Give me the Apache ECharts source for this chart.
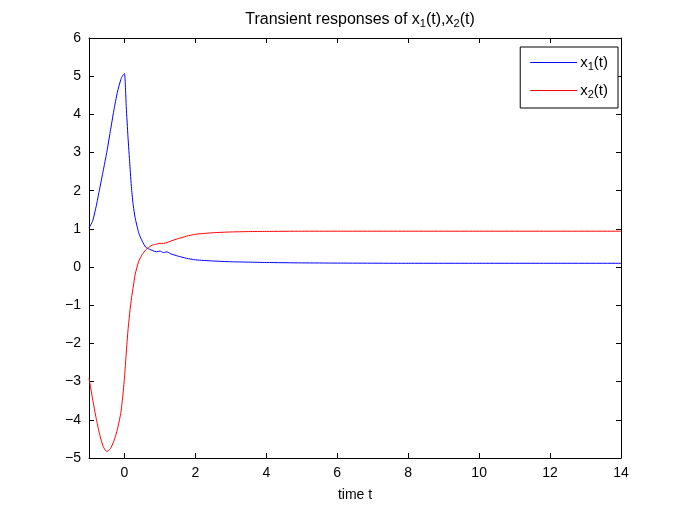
<!DOCTYPE html>
<html>
<head>
<meta charset="utf-8">
<script src="https://cdn.jsdelivr.net/npm/echarts@6/dist/echarts.min.js"></script>
<style>
  html, body { margin: 0; padding: 0; background: #fff; }
  #chart { width: 685px; height: 515px; }
</style>
</head>
<body>
<div id="chart"></div>
<script>
// time samples and the two state responses
const times = [-1, -0.9, -0.8, -0.7, -0.6, -0.5, -0.4, -0.3, -0.2, -0.1, -0.05, 0,
  0.05, 0.1, 0.15, 0.2, 0.25, 0.3, 0.4, 0.5, 0.6, 0.7, 0.8, 0.9, 1.0, 1.1, 1.2, 1.3,
  1.5, 1.75, 2, 2.5, 3, 3.5, 4, 5, 6, 8, 10, 12, 14];
const x1 = [1.03, 1.2, 1.58, 2.05, 2.52, 3.0, 3.55, 4.1, 4.58, 4.92, 5.02, 5.07,
  4.2, 3.4, 2.7, 2.05, 1.6, 1.3, 0.9, 0.68, 0.52, 0.47, 0.43, 0.40, 0.42, 0.38, 0.40, 0.35,
  0.29, 0.23, 0.19, 0.16, 0.14, 0.13, 0.12, 0.11, 0.105, 0.1, 0.1, 0.1, 0.1];
const x2 = [-2.9, -3.45, -3.95, -4.38, -4.7, -4.83, -4.76, -4.56, -4.25, -3.8, -3.4, -2.9,
  -2.25, -1.65, -1.18, -0.8, -0.5, -0.2, 0.15, 0.33, 0.45, 0.53, 0.58, 0.6, 0.62, 0.62, 0.64, 0.68,
  0.74, 0.81, 0.86, 0.9, 0.92, 0.93, 0.935, 0.94, 0.94, 0.94, 0.94, 0.94, 0.94];
const xTicks = [0, 2, 4, 6, 8, 10, 12, 14];

const font = 'Liberation Sans, Arial, sans-serif';
const subRich = size => ({
  sub: { fontSize: size, verticalAlign: 'bottom', padding: [8, 0, 0, 0], fontFamily: font, color: '#000' }
});
const fmtNum = v => (v < 0 ? '\u2212' + Math.abs(v) : String(v));

const frame = { onZero: false, lineStyle: { color: '#000', width: 1 } };
const tick = { inside: true, length: 5, lineStyle: { color: '#000' } };

const myChart = echarts.init(document.getElementById('chart'));
myChart.setOption({
  animation: false,
  textStyle: { fontFamily: font },
  title: {
    text: 'Transient responses of x{sub|1}(t),x{sub|2}(t)',
    left: 355, top: 5, textAlign: 'center',
    textStyle: { fontSize: 16, fontWeight: 'normal', color: '#000', fontFamily: font, rich: subRich(11) }
  },
  legend: {
    right: 67, top: 47,
    orient: 'vertical',
    backgroundColor: '#fff',
    borderColor: '#000', borderWidth: 1,
    padding: [8, 10, 8, 10],
    icon: 'rect',
    itemWidth: 47, itemHeight: 1, itemGap: 11,
    data: [
      { name: 'x1', itemStyle: { color: '#0000ff' } },
      { name: 'x2', itemStyle: { color: '#ff0000' } }
    ],
    formatter: name => name === 'x1' ? 'x{sub|1}(t)' : 'x{sub|2}(t)',
    textStyle: { fontSize: 15, color: '#000', fontFamily: font, rich: subRich(11), padding: [0, 0, 0, -2] }
  },
  grid: { left: 89, right: 64, top: 38, bottom: 57 },
  xAxis: [{
    type: 'value', min: -1, max: 14,
    name: 'time t', nameLocation: 'middle', nameGap: 30,
    nameTextStyle: { fontSize: 14, color: '#000' },
    axisLine: frame,
    axisTick: Object.assign({ customValues: xTicks }, tick),
    axisLabel: { customValues: xTicks, fontSize: 14, color: '#000', margin: 8, formatter: fmtNum },
    splitLine: { show: false }
  }, {
    type: 'value', min: -1, max: 14, position: 'top',
    axisLine: frame,
    axisTick: Object.assign({ customValues: xTicks }, tick),
    axisLabel: { show: false },
    splitLine: { show: false }
  }],
  yAxis: [{
    type: 'value', min: -5, max: 6, interval: 1,
    axisLine: frame,
    axisTick: tick,
    axisLabel: { fontSize: 14, color: '#000', margin: 8, formatter: fmtNum },
    splitLine: { show: false }
  }, {
    type: 'value', min: -5, max: 6, interval: 1, position: 'right',
    axisLine: frame,
    axisTick: tick,
    axisLabel: { show: false },
    splitLine: { show: false }
  }],
  series: [{
    name: 'x1', type: 'line', symbol: 'none', smooth: 0.2,
    lineStyle: { color: '#0000ff', width: 1 }, itemStyle: { color: '#0000ff' },
    data: times.map((t, i) => [t, x1[i]])
  }, {
    name: 'x2', type: 'line', symbol: 'none', smooth: 0.2,
    lineStyle: { color: '#ff0000', width: 1 }, itemStyle: { color: '#ff0000' },
    data: times.map((t, i) => [t, x2[i]])
  }]
});
</script>
</body>
</html>
